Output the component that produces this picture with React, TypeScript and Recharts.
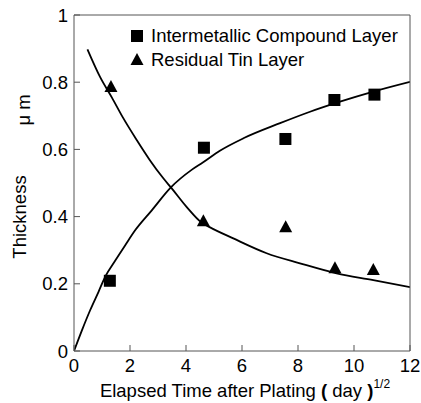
import React from "react";
import {
  ComposedChart,
  Line,
  Scatter,
  XAxis,
  YAxis,
  Label,
} from "recharts";

// measured points (x = sqrt(day), y = thickness in um)
const imcPoints = [
  { x: 1.28, y: 0.209 },
  { x: 4.64, y: 0.605 },
  { x: 7.55, y: 0.631 },
  { x: 9.3, y: 0.747 },
  { x: 10.73, y: 0.763 },
];

const tinPoints = [
  { x: 1.32, y: 0.786 },
  { x: 4.62, y: 0.386 },
  { x: 7.56, y: 0.368 },
  { x: 9.32, y: 0.246 },
  { x: 10.69, y: 0.241 },
];

// fitted curves
const imcCurve = [
  { x: 0, y: 0 },
  { x: 0.29, y: 0.063 },
  { x: 0.58, y: 0.122 },
  { x: 0.88, y: 0.177 },
  { x: 1.12, y: 0.222 },
  { x: 1.48, y: 0.27 },
  { x: 1.83, y: 0.315 },
  { x: 2.19, y: 0.36 },
  { x: 2.77, y: 0.418 },
  { x: 3.46, y: 0.487 },
  { x: 4.2, y: 0.539 },
  { x: 4.6, y: 0.561 },
  { x: 5.21, y: 0.596 },
  { x: 6.05, y: 0.633 },
  { x: 7.36, y: 0.678 },
  { x: 8.43, y: 0.712 },
  { x: 9.5, y: 0.742 },
  { x: 10.69, y: 0.772 },
  { x: 12, y: 0.801 },
];

const tinCurve = [
  { x: 0.48, y: 0.898 },
  { x: 0.93, y: 0.816 },
  { x: 1.35, y: 0.755 },
  { x: 1.76, y: 0.693 },
  { x: 2.24, y: 0.628 },
  { x: 2.71, y: 0.568 },
  { x: 3.19, y: 0.514 },
  { x: 3.49, y: 0.484 },
  { x: 4.02, y: 0.429 },
  { x: 4.56, y: 0.382 },
  { x: 4.86, y: 0.368 },
  { x: 5.69, y: 0.335 },
  { x: 6.88, y: 0.291 },
  { x: 8.07, y: 0.261 },
  { x: 9.38, y: 0.231 },
  { x: 10.69, y: 0.211 },
  { x: 12, y: 0.19 },
];

const xTicks = [0, 2, 4, 6, 8, 10, 12];
const yTicks = [0, 0.2, 0.4, 0.6, 0.8, 1];

const FONT = "Liberation Sans, Arial, sans-serif";
const AXIS = "#555";
const FS = 18.5;

const Square = (props: any) => {
  const { cx, cy } = props;
  return <rect x={cx - 6} y={cy - 6} width={12} height={12} fill="#000" />;
};

const Triangle = (props: any) => {
  const { cx, cy } = props;
  return (
    <polygon
      points={`${cx},${cy - 7} ${cx - 6.5},${cy + 5} ${cx + 6.5},${cy + 5}`}
      fill="#000"
    />
  );
};

const XTitle = (props: any) => {
  const { viewBox } = props;
  const cx = viewBox.x + viewBox.width / 2 + 3;
  return (
    <text x={cx} y={397} textAnchor="middle" fontFamily={FONT} fontSize={FS} fill="#000">
      <tspan>Elapsed Time after Plating </tspan>
      <tspan fontWeight="bold">(</tspan>
      <tspan> day </tspan>
      <tspan fontWeight="bold">)</tspan>
      <tspan fontSize={12} dy={-9}>1/2</tspan>
    </text>
  );
};

const YTitle = () => (
  <g fontFamily={FONT} fontSize={FS} fill="#000">
    <text x={0} y={0} transform="translate(26,217) rotate(-90)" textAnchor="middle">
      Thickness
    </text>
    <text x={0} y={0} transform="translate(30,110) rotate(-90)" textAnchor="middle">
      μ m
    </text>
  </g>
);

export default function App() {
  return (
    <div style={{ position: "absolute", left: 0, top: 0, width: 421, height: 403, background: "#fff" }}>
      <ComposedChart
        width={421}
        height={403}
        margin={{ top: 14, right: 10, left: 14, bottom: 0 }}
      >
        <XAxis
          xAxisId="b"
          dataKey="x"
          type="number"
          domain={[0, 12]}
          ticks={xTicks}
          height={52}
          tickSize={-6}
          tickMargin={14}
          stroke={AXIS}
          tick={{ fill: "#000", fontSize: FS, fontFamily: FONT }}
          allowDataOverflow
        >
          <Label content={<XTitle />} />
        </XAxis>
        <XAxis
          xAxisId="t"
          orientation="top"
          type="number"
          domain={[0, 12]}
          ticks={xTicks}
          height={1}
          tickSize={-6}
          tick={false}
          stroke={AXIS}
        />
        <YAxis
          yAxisId="l"
          dataKey="y"
          type="number"
          domain={[0, 1]}
          ticks={yTicks}
          width={60}
          tickSize={-6}
          tickMargin={12}
          stroke={AXIS}
          tick={{ fill: "#000", fontSize: FS, fontFamily: FONT }}
          allowDataOverflow
        >
          <Label content={<YTitle />} />
        </YAxis>
        <YAxis
          yAxisId="r"
          orientation="right"
          type="number"
          domain={[0, 1]}
          ticks={yTicks}
          width={1}
          tickSize={-6}
          tick={false}
          stroke={AXIS}
        />
        <Line
          xAxisId="b"
          yAxisId="l"
          data={imcCurve}
          dataKey="y"
          type="monotone"
          stroke="#000"
          strokeWidth={1.8}
          dot={false}
          isAnimationActive={false}
        />
        <Line
          xAxisId="b"
          yAxisId="l"
          data={tinCurve}
          dataKey="y"
          type="monotone"
          stroke="#000"
          strokeWidth={1.8}
          dot={false}
          isAnimationActive={false}
        />
        <Scatter
          xAxisId="b"
          yAxisId="l"
          data={imcPoints}
          shape={<Square />}
          isAnimationActive={false}
        />
        <Scatter
          xAxisId="b"
          yAxisId="l"
          data={tinPoints}
          shape={<Triangle />}
          isAnimationActive={false}
        />
      </ComposedChart>
      <div
        style={{
          position: "absolute",
          left: 130,
          top: 24,
          fontFamily: FONT,
          fontSize: FS,
          lineHeight: "24px",
          color: "#000",
        }}
      >
        <div style={{ display: "flex", alignItems: "center", whiteSpace: "nowrap" }}>
          <svg width={14} height={14} style={{ marginRight: 7 }}>
            <rect x={1} y={1} width={12} height={12} fill="#000" />
          </svg>
          Intermetallic Compound Layer
        </div>
        <div style={{ display: "flex", alignItems: "center", whiteSpace: "nowrap" }}>
          <svg width={14} height={14} style={{ marginRight: 7 }}>
            <polygon points="7,0 0.5,12 13.5,12" fill="#000" />
          </svg>
          Residual Tin Layer
        </div>
      </div>
    </div>
  );
}
